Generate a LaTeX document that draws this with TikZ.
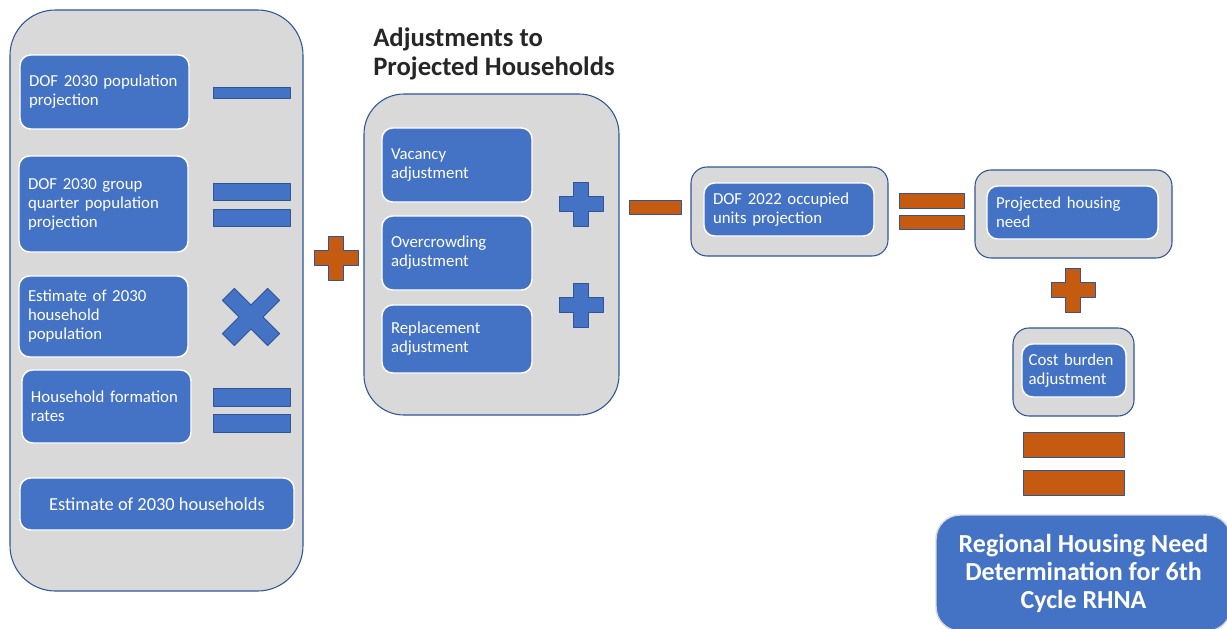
\documentclass[tikz,border=0pt]{standalone}
\usepackage{fontspec}
\setmainfont{Carlito}
\definecolor{boxblue}{HTML}{4472C4}
\definecolor{oporange}{HTML}{C55A11}
\definecolor{panelgrey}{HTML}{D9D9D9}
\definecolor{edgeblue}{HTML}{2F5597}
\definecolor{titlegrey}{HTML}{262626}
\tikzset{
  plussign/.pic={\draw[pic actions] (-7.5,-22) -- (7.5,-22) -- (7.5,-7.5) -- (22,-7.5) -- (22,7.5) -- (7.5,7.5) -- (7.5,22) -- (-7.5,22) -- (-7.5,7.5) -- (-22,7.5) -- (-22,-7.5) -- (-7.5,-7.5) -- cycle;},
  timessign/.pic={\draw[pic actions,rotate=45] (-8.5,-32) -- (8.5,-32) -- (8.5,-8.5) -- (32,-8.5) -- (32,8.5) -- (8.5,8.5) -- (8.5,32) -- (-8.5,32) -- (-8.5,8.5) -- (-32,8.5) -- (-32,-8.5) -- (-8.5,-8.5) -- cycle;}
}
\begin{document}
\begin{tikzpicture}[x=0.75pt,y=-0.75pt,line join=round,
    panel/.style={draw=edgeblue,line width=0.8pt,fill=panelgrey,inner sep=0pt},
    ibox/.style={draw=white,line width=1.1pt,fill=boxblue,rounded corners=8pt,text=white,
      align=left,inner sep=0pt,font=\fontsize{12.6}{14.25}\selectfont},
    opblue/.style={fill=boxblue,draw=edgeblue,line width=0.6pt},
    oporg/.style={fill=oporange,draw=edgeblue,line width=0.6pt}]
\useasboundingbox (0,0) rectangle (1227,628);
\clip (0,0) rectangle (1227,628);
% left panel
\node[panel,rounded corners=34pt,minimum width=219.75pt,minimum height=435.75pt] (left) at (156.5,300.5) {};
\node[ibox,minimum width=126.75pt,minimum height=55.5pt,text width=113.25pt] (dofpop) at (104.5,92) {DOF 2030 population\\projection};
\node[ibox,minimum width=126.75pt,minimum height=72pt,text width=113.25pt] (dofgq) at (103.5,204) {DOF 2030 group\\quarter population\\projection};
\node[ibox,minimum width=126.75pt,minimum height=60.75pt,text width=113.25pt] (hhpop) at (103.5,316.5) {Estimate of 2030\\household\\population};
\node[ibox,minimum width=126.75pt,minimum height=54.75pt,text width=113.25pt] (hhrate) at (106.5,406.5) {Household formation\\rates};
\node[ibox,minimum width=205.5pt,minimum height=39pt,align=center,font=\fontsize{13.8}{16}\selectfont] (hhest) at (157,504) {Estimate of 2030 households};
\draw[opblue] (213,87) rectangle (290,98);
\draw[opblue] (213,183) rectangle (290,200);
\draw[opblue] (213,209) rectangle (290,226);
\pic[opblue] at (251,317) {timessign};
\draw[opblue] (213,388) rectangle (290,406);
\draw[opblue] (213,414) rectangle (290,432);
\pic[oporg] at (336,258) {plussign};
% adjustments
\node[anchor=north west,inner sep=0pt,align=left,text=titlegrey,
  font=\fontsize{20}{21.75}\selectfont\bfseries] (adjtitle) at (373,28) {Adjustments to\\Projected Households};
\node[panel,rounded corners=30pt,minimum width=191.25pt,minimum height=240.75pt] (mid) at (491.5,254.5) {};
\node[ibox,minimum width=112.5pt,minimum height=55.5pt,text width=99pt] (vac) at (457,165) {Vacancy\\adjustment};
\node[ibox,minimum width=112.5pt,minimum height=55.5pt,text width=99pt] (over) at (457,253) {Overcrowding\\adjustment};
\node[ibox,minimum width=112.5pt,minimum height=51pt,text width=99pt] (repl) at (457,339) {Replacement\\adjustment};
\pic[opblue] at (581,204) {plussign};
\pic[opblue] at (581,305) {plussign};
\draw[oporg] (629,200) rectangle (681,214);
% occupied units
\node[panel,rounded corners=12pt,minimum width=147.75pt,minimum height=66.75pt] (occ) at (789.5,211.5) {};
\node[ibox,minimum width=127.5pt,minimum height=39.75pt,text width=114pt] (dofocc) at (789,209.5) {DOF 2022 occupied\\units projection};
\draw[oporg] (899,193) rectangle (964,208);
\draw[oporg] (899,215) rectangle (964,229);
% projected need
\node[panel,rounded corners=12pt,minimum width=147.75pt,minimum height=66pt] (need) at (1073.5,214) {};
\node[ibox,minimum width=128.25pt,minimum height=39.75pt,text width=114.75pt] (projneed) at (1072.5,212.5) {Projected housing\\need};
\pic[oporg] at (1073,290) {plussign};
\node[panel,rounded corners=12pt,minimum width=90.75pt,minimum height=66pt] (cost) at (1073.5,372) {};
\node[ibox,minimum width=78pt,minimum height=39.75pt,text width=68pt] (costadj) at (1074,370.5) {Cost burden\\adjustment};
\draw[oporg] (1023,432) rectangle (1124,457);
\draw[oporg] (1023,470) rectangle (1124,495);
% result
\node[ibox,draw=panelgrey,rounded corners=18pt,minimum width=221.25pt,minimum height=87pt,align=center,
  font=\fontsize{19.5}{21}\selectfont\bfseries] (rhna) at (1083.5,573) {Regional Housing Need\\Determination for 6th\\Cycle RHNA};
\end{tikzpicture}
\end{document}
